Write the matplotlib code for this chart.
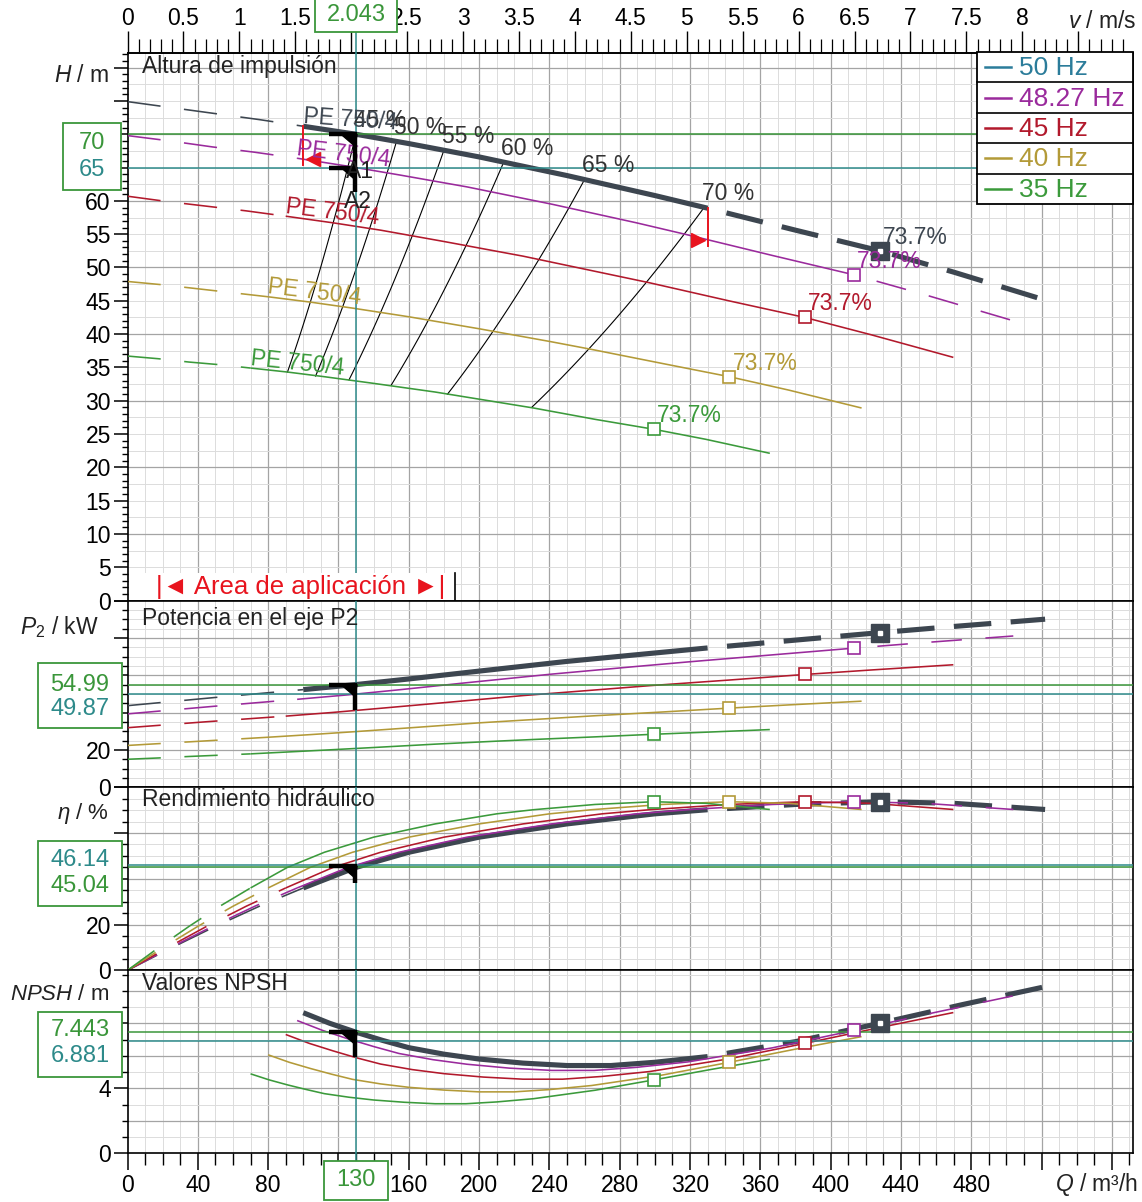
import numpy as np
import matplotlib
matplotlib.use("Agg")
import matplotlib.pyplot as plt
from matplotlib.patches import Rectangle, Polygon
from matplotlib.ticker import FixedLocator, MultipleLocator, FuncFormatter

plt.rcParams['font.family'] = ['Liberation Sans', 'DejaVu Sans']
plt.rcParams['lines.scale_dashes'] = False
plt.rcParams['mathtext.fontset'] = 'custom'
plt.rcParams['mathtext.rm'] = 'Liberation Sans'
plt.rcParams['mathtext.it'] = 'Liberation Sans:italic'

# ---------------------------------------------------------------- data
speeds = ["50 Hz", "48.27 Hz", "45 Hz", "40 Hz", "35 Hz"]

q_50 = [0, 25, 50, 75, 100, 130, 160, 200, 250, 300, 330, 380, 428, 470, 522]
q_48 = [0, 24.1, 48.3, 72.4, 96.5, 125.5, 154.5, 193.1, 241.4, 289.6, 318.6, 366.9, 413.2, 453.7, 503.9]
q_45 = [0, 22.5, 45, 67.5, 90, 117, 144, 180, 225, 270, 297, 342, 385.2, 423, 469.8]
q_40 = [0, 20, 40, 60, 80, 104, 128, 160, 200, 240, 264, 304, 342.4, 376, 417.6]
q_35 = [0, 17.5, 35, 52.5, 70, 91, 112, 140, 175, 210, 231, 266, 299.6, 329, 365.4]

head_50 = [74.9, 74.0, 73.1, 72.2, 71.2, 70.0, 68.6, 66.6, 63.8, 60.8, 58.9, 55.6, 52.5, 49.3, 45.1]
head_48 = [69.8, 69.0, 68.1, 67.3, 66.4, 65.2, 63.9, 62.1, 59.5, 56.7, 54.9, 51.8, 48.9, 45.9, 42.0]
head_45 = [60.7, 59.9, 59.2, 58.5, 57.7, 56.7, 55.6, 53.9, 51.7, 49.2, 47.7, 45.0, 42.5, 39.9, 36.5]
head_40 = [47.9, 47.4, 46.8, 46.2, 45.6, 44.8, 43.9, 42.6, 40.8, 38.9, 37.7, 35.6, 33.6, 31.6, 28.9]
head_35 = [36.7, 36.3, 35.8, 35.4, 34.9, 34.3, 33.6, 32.6, 31.3, 29.8, 28.9, 27.2, 25.7, 24.2, 22.1]

p2_50 = [43.7, 45.9, 48.1, 50.2, 52.3, 55.0, 58.0, 62.2, 67.4, 71.9, 74.6, 78.8, 82.8, 86.1, 90.0]
p2_48 = [39.3, 41.3, 43.3, 45.2, 47.1, 49.5, 52.2, 56.0, 60.6, 64.7, 67.1, 70.9, 74.5, 77.5, 81.0]
p2_45 = [31.9, 33.5, 35.1, 36.6, 38.1, 40.1, 42.3, 45.3, 49.1, 52.4, 54.4, 57.4, 60.4, 62.8, 65.6]
p2_40 = [22.4, 23.5, 24.6, 25.7, 26.8, 28.2, 29.7, 31.8, 34.5, 36.8, 38.2, 40.3, 42.4, 44.1, 46.1]
p2_35 = [15.0, 15.7, 16.5, 17.2, 17.9, 18.9, 19.9, 21.3, 23.1, 24.7, 25.6, 27.0, 28.4, 29.5, 30.9]

eta_50 = [0, 9.8, 19.2, 28.0, 36.0, 45.0, 51.6, 58.2, 64.0, 68.4, 70.2, 72.5, 73.7, 73.0, 70.3]
eta_48 = [0, 9.8, 19.2, 28.0, 36.0, 45.0, 51.6, 58.2, 64.0, 68.4, 70.2, 72.5, 73.7, 73.0, 70.3]
eta_45 = [0, 9.8, 19.2, 28.0, 36.0, 45.0, 51.6, 58.2, 64.0, 68.4, 70.2, 72.5, 73.7, 73.0, 70.3]
eta_40 = [0, 9.8, 19.2, 28.0, 36.0, 45.0, 51.6, 58.2, 64.0, 68.4, 70.2, 72.5, 73.7, 73.0, 70.3]
eta_35 = [0, 9.8, 19.2, 28.0, 36.0, 45.0, 51.6, 58.2, 64.0, 68.4, 70.2, 72.5, 73.7, 73.0, 70.3]

# NPSH curves have their own flow nodes (they start at the minimum flow)
qn_50 = [100, 115, 130, 145, 160, 180, 200, 225, 250, 275, 300, 330, 380, 428, 475, 522]
qn_48 = [96.5, 111.0, 125.5, 140.0, 154.5, 173.8, 193.1, 217.2, 241.4, 265.5, 289.6, 318.6, 366.9, 413.2, 458.6, 503.9]
qn_45 = [90, 103.5, 117, 130.5, 144, 162, 180, 202.5, 225, 247.5, 270, 297, 342, 385.2, 427.5, 469.8]
qn_40 = [80, 92, 104, 116, 128, 144, 160, 180, 200, 220, 240, 264, 304, 342.4, 380, 417.6]
qn_35 = [70, 80.5, 91, 101.5, 112, 126, 140, 157.5, 175, 192.5, 210, 231, 266, 299.6, 332.5, 365.4]

npsh_50 = [8.65, 8.00, 7.45, 6.95, 6.50, 6.10, 5.80, 5.55, 5.40, 5.40, 5.60, 5.95, 6.87, 8.00, 9.15, 10.25]
npsh_48 = [8.17, 7.56, 7.04, 6.57, 6.14, 5.76, 5.48, 5.24, 5.10, 5.10, 5.29, 5.62, 6.49, 7.56, 8.65, 9.69]
npsh_45 = [7.31, 6.76, 6.30, 5.87, 5.49, 5.15, 4.90, 4.69, 4.56, 4.56, 4.73, 5.03, 5.81, 6.76, 7.73, 8.66]
npsh_40 = [6.06, 5.60, 5.22, 4.87, 4.55, 4.27, 4.06, 3.89, 3.78, 3.78, 3.92, 4.17, 4.81, 5.60, 6.41, 7.18]
npsh_35 = [4.89, 4.52, 4.21, 3.93, 3.67, 3.45, 3.28, 3.14, 3.05, 3.05, 3.16, 3.36, 3.88, 4.52, 5.17, 5.79]

bep_label = "73.7%"

# iso-efficiency lines (50 Hz end -> 35 Hz end)
iso_labels = ["45 %", "50 %", "55 %", "60 %", "65 %", "70 %"]
iso_q_top = [130, 153, 180, 214, 260, 328]
iso_h_top = [70.0, 68.9, 67.6, 65.8, 63.2, 59.0]
iso_q_bot = [91, 107, 126, 150, 182, 230]

# duty point
q_duty = 130
v_duty = "2.043"
duty_head = (70, 65)
duty_p2 = (54.99, 49.87)
duty_eta = (46.14, 45.04)
duty_npsh = (7.443, 6.881)
area_limits = (100, 330)

# ---------------------------------------------------------------- style
curve_colors = ["#3d4650", "#9a2a9c", "#b2192c", "#b39a38", "#3b9a3b"]
legend_colors = ["#2b7c9a", "#9a2a9c", "#b2192c", "#b39a38", "#3b9a3b"]
# index ranges drawn solid: (first, last) for the 15-node curves and the 16-node NPSH curves
solid_span = [(4, 10), (4, 12), (4, 14), (4, 14), (4, 14)]
solid_span_npsh = [(0, 11), (0, 13), (0, 15), (0, 15), (0, 15)]
bep_index = 12
bep_index_npsh = 13
GREEN = "#3a963a"
TEAL = "#2d8a8a"
RED = "#e8141e"

W, HGT = 1142, 1202
FS = 16.5

fig = plt.figure(figsize=(W / 100, HGT / 100), dpi=100)
fig.patch.set_facecolor("white")

X0, X1 = 127.5, 1133.0
QMAX = 572


def add_panel(y0, y1):
    return fig.add_axes([X0 / W, 1 - y1 / HGT, (X1 - X0) / W, (y1 - y0) / HGT])


ax_h = add_panel(53, 600.5)
ax_p = add_panel(600.5, 787.3)
ax_e = add_panel(787.3, 970.3)
ax_n = add_panel(970.3, 1153.3)
axes = [ax_h, ax_p, ax_e, ax_n]
ylims = [(0, 82.2), (0, 100), (0, 80), (0, 11.26)]
ymajor = [np.arange(0, 81, 5), np.arange(0, 101, 20), np.arange(0, 81, 20), np.arange(0, 11, 4)]
yminor = [1, 5, 5, 1]
ylabels = [set(range(0, 61, 5)), {0, 20}, {0, 20}, {0, 4}]
hgrid_major = [10, 20, 20, 2]
hgrid_minor = [2.5, 5, 5, 1]

for k, ax in enumerate(axes):
    ax.set_xlim(0, QMAX)
    ax.set_ylim(*ylims[k])
    for s in ax.spines.values():
        s.set_linewidth(1.2)
        s.set_color("black")
    # grid drawn by hand
    for q in np.arange(10, QMAX, 10):
        major = (q % 40 == 0)
        ax.axvline(q, color="#a4a4a4" if major else "#dcdcdc", lw=0.9 if major else 0.7, zorder=0)
    lo, hi = ylims[k]
    for y in np.arange(hgrid_minor[k], hi, hgrid_minor[k]):
        major = abs(y / hgrid_major[k] - round(y / hgrid_major[k])) < 1e-6
        ax.axhline(y, color="#a4a4a4" if major else "#dcdcdc", lw=0.9 if major else 0.7, zorder=0)
    ax.yaxis.set_major_locator(FixedLocator(ymajor[k]))
    ax.yaxis.set_minor_locator(MultipleLocator(yminor[k]))
    labs = ylabels[k]
    ax.yaxis.set_major_formatter(FuncFormatter(lambda v, p, labs=labs: f"{v:g}" if round(v) in labs else ""))
    ax.tick_params(axis="y", which="major", direction="out", length=10, width=1.1, labelsize=FS, pad=2)
    ax.tick_params(axis="y", which="minor", direction="out", length=4.5, width=1.0)
    ax.tick_params(axis="x", which="both", bottom=False, labelbottom=False)

# bottom flow axis
ax_n.xaxis.set_major_locator(FixedLocator(np.arange(0, QMAX, 40)))
ax_n.xaxis.set_minor_locator(MultipleLocator(10))
ax_n.xaxis.set_major_formatter(FuncFormatter(lambda v, p: "" if v in (120, 520, 560) else f"{v:g}"))
ax_n.tick_params(axis="x", which="major", bottom=True, labelbottom=True, direction="out",
                 length=12, width=1.1, labelsize=FS, pad=3)
ax_n.tick_params(axis="x", which="minor", bottom=True, direction="out", length=8.5, width=1.0)

# top velocity axis
K = float(v_duty) / q_duty
ax_v = ax_h.secondary_xaxis("top", functions=(lambda q: q * K, lambda v: v / K))
ax_v.xaxis.set_major_locator(FixedLocator(np.arange(0, 9.01, 0.5)))
ax_v.xaxis.set_minor_locator(MultipleLocator(0.1))
ax_v.xaxis.set_major_formatter(FuncFormatter(lambda v, p: "" if (abs(v - 2) < 1e-6 or v > 8.01) else f"{v:g}"))
ax_v.tick_params(axis="x", which="major", direction="out", length=15.5, width=1.0, labelsize=FS, pad=1)
ax_v.tick_params(axis="x", which="minor", direction="out", length=10, width=0.9)
ax_v.spines["top"].set_linewidth(1.2)

q_all = [q_50, q_48, q_45, q_40, q_35]
head_all = [head_50, head_48, head_45, head_40, head_35]
p2_all = [p2_50, p2_48, p2_45, p2_40, p2_35]
eta_all = [eta_50, eta_48, eta_45, eta_40, eta_35]
qn_all = [qn_50, qn_48, qn_45, qn_40, qn_35]
npsh_all = [npsh_50, npsh_48, npsh_45, npsh_40, npsh_35]

THIN = 1.15
THICK = 3.7
thin_dash = (0, (24, 17))
thick_dash = (27, (27, 14))


def draw_curve(ax, q, y, k, span, ibep):
    q = np.asarray(q, float)
    y = np.asarray(y, float)
    s0, s1 = span
    col = curve_colors[k]
    lw_solid = THICK if k == 0 else THIN
    if s0 > 0:
        ax.plot(q[:s0 + 1], y[:s0 + 1], color=col, lw=THIN, ls=thin_dash, zorder=3)
    ax.plot(q[s0:s1 + 1], y[s0:s1 + 1], color=col, lw=lw_solid, solid_capstyle="butt", zorder=3)
    if s1 < len(q) - 1:
        if k == 0:
            ax.plot(q[s1:], y[s1:], color=col, lw=THICK, ls=thick_dash, zorder=3)
        else:
            ax.plot(q[s1:], y[s1:], color=col, lw=THIN, ls=(22, (22, 17)), zorder=3)
    # best efficiency point
    if k == 0:
        ax.plot(q[ibep], y[ibep], marker="s", ms=12.5, mfc=col, mec=col, zorder=6)
        ax.plot(q[ibep], y[ibep], marker="s", ms=3, mfc="white", mec="white", zorder=7)
    else:
        ax.plot(q[ibep], y[ibep], marker="s", ms=9, mfc="white", mec=col, mew=1.2, zorder=6)


for k in range(5):
    draw_curve(ax_h, q_all[k], head_all[k], k, solid_span[k], bep_index)
    draw_curve(ax_p, q_all[k], p2_all[k], k, solid_span[k], bep_index)
    draw_curve(ax_e, q_all[k], eta_all[k], k, solid_span[k], bep_index)
    draw_curve(ax_n, qn_all[k], npsh_all[k], k, solid_span_npsh[k], bep_index_npsh)

# iso-efficiency lines in the head panel
for lab, qt, ht, qb in zip(iso_labels, iso_q_top, iso_h_top, iso_q_bot):
    qq = np.linspace(qb, qt, 30)
    ax_h.plot(qq, ht * (qq / qt) ** 2, color="black", lw=0.8, zorder=2)
    ax_h.annotate(lab, (qt, ht), xytext=(24, 14), textcoords="offset pixels",
                  ha="center", va="center", fontsize=FS, color="#333333", zorder=8)

# curve names and BEP values
name_rot = [-4, -7, -7, -7, -6]
for k in range(5):
    s0 = solid_span[k][0]
    ax_h.annotate("PE 750/4", (q_all[k][s0], head_all[k][s0]), xytext=(0, 10), textcoords="offset pixels",
                  ha="left", va="center", rotation=name_rot[k], rotation_mode="anchor",
                  fontsize=FS, color=curve_colors[k], zorder=8)
    ax_h.annotate(bep_label, (q_all[k][bep_index], head_all[k][bep_index]), xytext=(3, 2),
                  textcoords="offset pixels", ha="left", va="bottom", fontsize=FS,
                  color=curve_colors[k], zorder=8)

# duty point lines
for ax, (v_g, v_t) in zip(axes, [duty_head, duty_p2, (duty_eta[1], duty_eta[0]), duty_npsh]):
    ax.axhline(v_g, color=GREEN, lw=1.1, zorder=4)
    ax.axhline(v_t, color=TEAL, lw=1.1, zorder=4)
    ax.axvline(q_duty, color=TEAL, lw=1.1, zorder=4)

# application area limits on the 48.27 Hz curve
h48 = np.interp(area_limits, q_48, head_48)
h50 = np.interp(area_limits, q_50, head_50)
for qa, ha_, hb_, mk, dx in zip(area_limits, h48, h50, ["<", ">"], [5.5, -5.5]):
    ax_h.plot([qa, qa], [ha_ - 0.9, hb_], color=RED, lw=1.4, zorder=7)
    ax_h.plot(qa + dx, ha_, marker=mk, ms=10, color=RED, mec=RED, zorder=7)

# ---------------------------------------------------------------- overlay
ov = fig.add_axes([0, 0, 1, 1], zorder=20)
ov.set_xlim(0, W)
ov.set_ylim(HGT, 0)
ov.axis("off")
ov.patch.set_alpha(0)


def to_px(ax, q, v):
    x, y = ax.transData.transform((q, v))
    return x, HGT - y


x_duty, _ = to_px(ax_h, q_duty, 0)

# duty point symbols
stems = [(ax_h, 70, 61.3), (ax_h, 65, None), (ax_p, 54.99, 41.5), (ax_e, 45.6, 38.0), (ax_n, 7.443, 5.95)]
for ax, top, bottom in stems:
    _, yt = to_px(ax, q_duty, top)
    ov.plot([x_duty - 27, x_duty + 1], [yt, yt], color="black", lw=3.2, solid_capstyle="butt")
    ov.add_patch(Polygon([[x_duty - 15, yt], [x_duty + 1, yt], [x_duty - 1, yt + 12]], closed=True,
                         fc="black", ec="black"))
    if bottom is not None:
        _, yb = to_px(ax, q_duty, bottom)
        ov.plot([x_duty - 1, x_duty - 1], [yt, yb], color="black", lw=3.2, solid_capstyle="butt")
ov.text(360, 172, "A1", fontsize=FS, color="#222222", ha="center", va="center")
ov.text(358, 201, "A2", fontsize=FS, color="#222222", ha="center", va="center")


# duty readout boxes
def readout(x0, y0, x1, y1, lines):
    ov.add_patch(Rectangle((x0, y0), x1 - x0, y1 - y0, fc="white", ec=GREEN, lw=1.3, zorder=21))
    for txt, cx, cy, col in lines:
        ov.text(cx, cy, txt, fontsize=FS + 0.5, color=col, ha="center", va="center", zorder=22)


readout(63, 123, 121, 190, [("70", 92, 143, GREEN), ("65", 92, 170, TEAL)])
readout(38, 663, 122, 728, [("54.99", 80, 685, GREEN), ("49.87", 80, 709, TEAL)])
readout(38, 841, 122, 906, [("46.14", 80, 860, TEAL), ("45.04", 80, 886, GREEN)])
readout(38, 1012, 122, 1077, [("7.443", 80, 1030, GREEN), ("6.881", 80, 1056, TEAL)])
readout(315, -3, 397, 32, [(v_duty, 356, 15, GREEN)])
readout(324, 1161, 388, 1200, [(str(q_duty), 356, 1180, GREEN)])
ov.plot([x_duty, x_duty], [32, 53], color=TEAL, lw=1.1)
ov.plot([x_duty, x_duty], [1153, 1161], color=TEAL, lw=1.1)

# application area caption
ov.add_patch(Rectangle((129, 573), 326, 27, fc="white", ec="none", zorder=19))
ov.plot([455, 455], [573, 600], color="black", lw=1.2, zorder=21)
ov.text(301, 587, "|◄ Area de aplicación ►|", fontsize=18.5, color=RED, ha="center", va="center", zorder=22)

# legend
LX0, LX1, LY0, ROW = 977, 1133, 52, 30.4
ov.add_patch(Rectangle((LX0, LY0), LX1 - LX0, ROW * 5, fc="white", ec="black", lw=1.3, zorder=21))
for k, name in enumerate(speeds):
    yc = LY0 + ROW * (k + 0.5)
    if k > 0:
        ov.plot([LX0, LX1], [LY0 + ROW * k, LY0 + ROW * k], color="black", lw=1.2, zorder=22)
    ov.plot([985, 1011], [yc, yc], color=legend_colors[k], lw=1.8, zorder=22)
    ov.text(1019, yc + 1, name, fontsize=19, color=legend_colors[k], ha="left", va="center", zorder=22)

# panel titles
titles = [("Altura de impulsión", 67), ("Potencia en el eje P2", 618), ("Rendimiento hidráulico", 800),
          ("Valores NPSH", 984)]
for txt, y in titles:
    ov.text(142, y, txt, fontsize=FS, color="#222222", ha="left", va="center")

# axis titles
ov.text(109, 76, "$H$ / m", fontsize=FS, ha="right", va="center", color="#222222")
ov.text(99, 627, "$P_{\\mathrm{2}}$ / kW", fontsize=FS, ha="right", va="center", color="#222222")
ov.text(109, 814, "$\\eta$ / %", fontsize=FS - 0.5, ha="right", va="center", color="#222222")
ov.text(109, 995, "$NPSH$ / m", fontsize=FS - 0.5, ha="right", va="center", color="#222222")
ov.text(1138, 1185, "$Q$ / m³/h", fontsize=FS, ha="right", va="center", color="#222222")
ov.text(1137, 21, "$v$ / m/s", fontsize=FS, ha="right", va="center", color="#222222")

fig.savefig("out.png", dpi=100, facecolor="white")
